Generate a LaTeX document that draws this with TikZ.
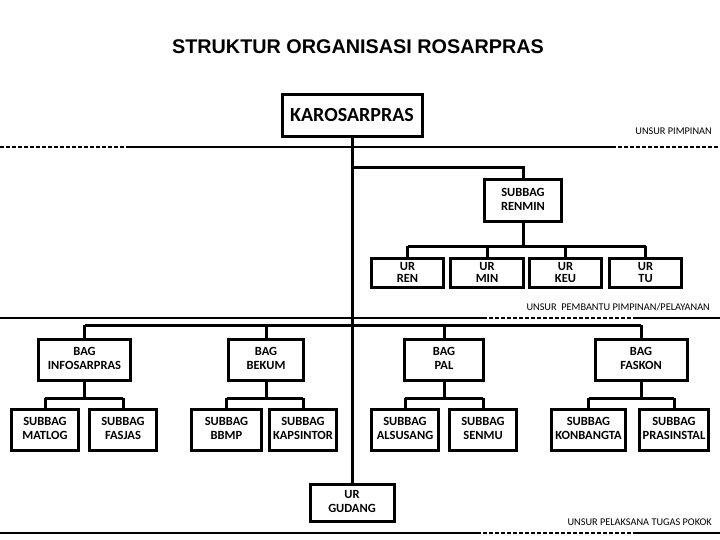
\documentclass[tikz,border=0pt]{standalone}
\usepackage{fontspec}
\setmainfont{Carlito}
\newfontfamily\titlefont{Liberation Sans}
\newcommand{\twoline}[2]{\strut #1\\#2\strut}
\begin{document}
\begin{tikzpicture}[x=1pt,y=-1pt,
  orgbox/.style={draw, line width=3pt, align=center, inner sep=0pt,
    font=\bfseries\fontsize{12.5}{14}\selectfont},
  urbox/.style={orgbox, minimum height=29pt, font=\bfseries\fontsize{12.5}{12.5}\selectfont},
  conn/.style={line width=3pt},
  secline/.style={line width=2.5pt},
  secdash/.style={line width=2.5pt, dash pattern=on 4pt off 2pt},
  seclabel/.style={font=\fontsize{10.3}{12}\selectfont, inner sep=0pt, anchor=east}
]
\useasboundingbox (0,0) rectangle (720,540);
% title
\node (title) at (358,47) {\titlefont\bfseries\fontsize{19.8}{22}\selectfont STRUKTUR ORGANISASI ROSARPRAS};
% boxes
\node[orgbox, minimum width=140pt, minimum height=42pt, font=\bfseries\fontsize{20}{22}\selectfont] (kar) at (352,115.5) {KAROSARPRAS};
\node[orgbox, minimum width=77pt, minimum height=42pt] (renmin) at (523,200.5) {\twoline{SUBBAG}{RENMIN}};
\node[urbox, minimum width=72pt] (ren) at (407.5,272.5) {UR\\REN};
\node[urbox, minimum width=73pt] (min) at (487,272.5) {UR\\MIN};
\node[urbox, minimum width=72pt] (keu) at (565.5,272.5) {UR\\KEU};
\node[urbox, minimum width=72pt] (tu) at (645.5,272.5) {UR\\TU};
\node[orgbox, minimum width=92pt, minimum height=41pt] (info) at (84.5,360) {\twoline{BAG}{INFOSARPRAS}};
\node[orgbox, minimum width=75pt, minimum height=41pt] (bekum) at (266,360) {\twoline{BAG}{BEKUM}};
\node[orgbox, minimum width=79pt, minimum height=41pt] (pal) at (444,360) {\twoline{BAG}{PAL}};
\node[orgbox, minimum width=92pt, minimum height=41pt] (faskon) at (641,360) {\twoline{BAG}{FASKON}};
\node[orgbox, minimum width=67pt, minimum height=41pt] (matlog) at (45,430) {\twoline{SUBBAG}{MATLOG}};
\node[orgbox, minimum width=67pt, minimum height=41pt] (fasjas) at (123,430) {\twoline{SUBBAG}{FASJAS}};
\node[orgbox, minimum width=70pt, minimum height=41pt] (bbmp) at (226.5,430) {\twoline{SUBBAG}{BBMP}};
\node[orgbox, minimum width=67pt, minimum height=41pt] (kaps) at (303,430) {\twoline{SUBBAG}{KAPSINTOR}};
\node[orgbox, minimum width=67pt, minimum height=41pt] (alsus) at (405,430) {\twoline{SUBBAG}{ALSUSANG}};
\node[orgbox, minimum width=67pt, minimum height=41pt] (senmu) at (483,430) {\twoline{SUBBAG}{SENMU}};
\node[orgbox, minimum width=74pt, minimum height=41pt] (konb) at (588.5,430) {\twoline{SUBBAG}{KONBANGTA}};
\node[orgbox, minimum width=69pt, minimum height=41pt] (pras) at (674,430) {\twoline{SUBBAG}{PRASINSTAL}};
\node[orgbox, minimum width=84pt, minimum height=37pt] (gudang) at (352,503) {\twoline{UR}{GUDANG}};
% junction coordinates
\coordinate (yr) at (0,168);
\coordinate (yu) at (0,246);
\coordinate (yb) at (0,325);
\coordinate (ys) at (0,398);
% main trunk
\draw[conn] (kar.south) -- (gudang.north);
\draw[conn] (kar.south |- yr) -| (renmin.north);
% renmin branch
\draw[conn] (renmin.south) -- (renmin.south |- yu);
\draw[conn] (ren.north |- yu) -- (tu.north |- yu);
\foreach \n in {ren,min,keu,tu} \draw[conn] (\n.north |- yu) -- (\n.north);
% bag branch
\draw[conn] (info.north |- yb) -- (faskon.north |- yb);
\foreach \n in {info,bekum,pal,faskon} \draw[conn] (\n.north |- yb) -- (\n.north);
% sub branches
\foreach \b/\l/\r in {info/matlog/fasjas, bekum/bbmp/kaps, pal/alsus/senmu, faskon/konb/pras}{
  \draw[conn] (\b.south) -- (\b.south |- ys);
  \draw[conn] (\l.north |- ys) -- (\r.north |- ys);
  \draw[conn] (\l.north |- ys) -- (\l.north);
  \draw[conn] (\r.north |- ys) -- (\r.north);
}
% section lines
\coordinate (a0) at (0,147);   \coordinate (a1) at (130,147);
\coordinate (a2) at (612,147); \coordinate (a3) at (720,147);
\draw[secdash] (a0) -- (a1);
\draw[secline] (a1) -- (a2);
\draw[secdash] (a2) -- (a3);
\node[seclabel] (l1) at (712,131) {UNSUR PIMPINAN};
\coordinate (b0) at (0,318);   \coordinate (b1) at (483,318);
\coordinate (b2) at (637,318); \coordinate (b3) at (720,318);
\draw[secline] (b0) -- (b1);
\draw[secdash] (b1) -- (b2);
\draw[secline] (b2) -- (b3);
\node[seclabel] (l2) at (710,307) {UNSUR\ \ PEMBANTU PIMPINAN/PELAYANAN};
\coordinate (c0) at (0,533);   \coordinate (c1) at (477,533);
\coordinate (c2) at (633,533); \coordinate (c3) at (720,533);
\draw[secline] (c0) -- (c1);
\draw[secdash] (c1) -- (c2);
\draw[secline] (c2) -- (c3);
\node[seclabel] (l3) at (712,522) {UNSUR PELAKSANA TUGAS POKOK};
\end{tikzpicture}
\end{document}
